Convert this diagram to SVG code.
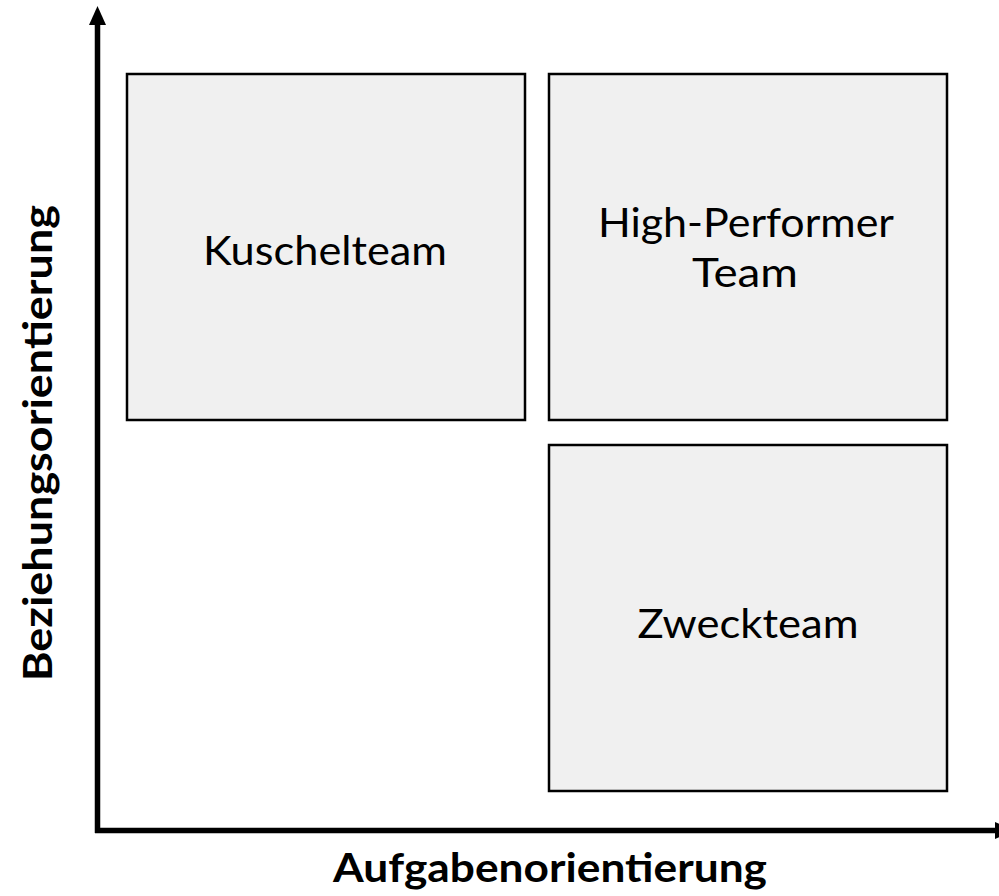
<svg xmlns="http://www.w3.org/2000/svg" width="999" height="896" viewBox="0 0 999 896">
<style>
.box{fill:#f0f0f0;stroke:#000;stroke-width:2.5}
.lbl{font-family:Lato,"Open Sans","Liberation Sans",sans-serif;font-size:41px;fill:#000;text-anchor:middle}
.ax{font-family:Lato,"Open Sans","Liberation Sans",sans-serif;font-size:40px;font-weight:bold;fill:#000;text-anchor:middle}
.axis{stroke:#000;stroke-width:5.5;fill:none}
</style>
<rect width="999" height="896" fill="#fff"/>
<g id="connectors">
<line class="axis" x1="97.5" y1="833" x2="97.5" y2="22"/>
<polygon points="97.5,6 89,25 106,25" fill="#000"/>
<line class="axis" x1="95" y1="830.5" x2="996" y2="830.5"/>
<polygon points="1014,830.5 995,822 995,839" fill="#000"/>
</g>
<g id="kuschelteam">
<rect class="box" x="127" y="74" width="398" height="346"/>
<text class="lbl" x="325" y="265" textLength="244" lengthAdjust="spacingAndGlyphs">Kuschelteam</text>
</g>
<g id="high-performer">
<rect class="box" x="549" y="74" width="398" height="346"/>
<text class="lbl" x="746" y="237" textLength="296" lengthAdjust="spacingAndGlyphs">High-Performer</text>
<text class="lbl" x="745" y="287" textLength="106" lengthAdjust="spacingAndGlyphs">Team</text>
</g>
<g id="zweckteam">
<rect class="box" x="549" y="445" width="398" height="346"/>
<text class="lbl" x="748" y="638" textLength="221" lengthAdjust="spacingAndGlyphs">Zweckteam</text>
</g>
<g id="axis-labels">
<text class="ax" x="550" y="882" textLength="434" lengthAdjust="spacingAndGlyphs">Aufgabenorientierung</text>
<text class="ax" transform="translate(52,443) rotate(-90)" x="0" y="0" textLength="476" lengthAdjust="spacingAndGlyphs">Beziehungsorientierung</text>
</g>
</svg>
